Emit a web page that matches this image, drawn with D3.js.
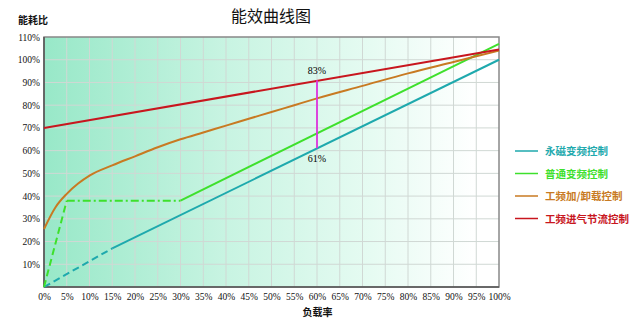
<!DOCTYPE html>
<html><head><meta charset="utf-8">
<script src="https://cdn.jsdelivr.net/npm/d3@7"></script>
<style>body{margin:0;background:#fff}svg{display:block}</style>
</head><body>
<svg id="c" width="640" height="326"></svg>
<script>
const xTicks = [0,5,10,15,20,25,30,35,40,45,50,55,60,65,70,75,80,85,90,95,100];
const yTicks = [10,20,30,40,50,60,70,80,90,100,110];
const seriesNames = ["永磁变频控制","普通变频控制","工频加/卸载控制","工频进气节流控制"];
const seriesColors = ["#1ea9ad","#3ee02c","#c87a22","#c8161e"];
const cyanDash = [[0,0],[15,17]];
const cyanSolid = [[15,17],[100,100]];
const greenDash = [[0,0],[5,38]];
const greenDashDot = [[5,38],[30,38]];
const greenSolid = [[30,38],[100,107]];
const orange = [[0,25.5],[2.5,35],[5,41],[7.5,45.5],[10,49],[15,53.5],[20,57.5],[25,61.5],[30,65],[35,68],[40,71],[45,74],[50,77],[55,80],[60,83],[70,88.5],[80,94],[90,99],[100,104]];
const red = [[0,70],[100,104.5]];
const marker = {x:60, lo:61, hi:91, topLabel:"83%", botLabel:"61%"};

const svg = d3.select("#c");
const m = {l:44, r:499, t:37, b:287};
const x = d3.scaleLinear().domain([0,100]).range([m.l,m.r]);
const y = d3.scaleLinear().domain([0,110]).range([m.b,m.t]);

const defs = svg.append("defs");
const g = defs.append("linearGradient").attr("id","bg").attr("x1","0").attr("x2","1").attr("y1","0").attr("y2","0");
g.append("stop").attr("offset","0").attr("stop-color","#98e8c8");
g.append("stop").attr("offset","0.4").attr("stop-color","#c8f4e2");
g.append("stop").attr("offset","0.72").attr("stop-color","#e6fbf2");
g.append("stop").attr("offset","0.95").attr("stop-color","#ffffff");

svg.append("rect").attr("x",m.l).attr("y",m.t).attr("width",m.r-m.l).attr("height",m.b-m.t).attr("fill","url(#bg)");

// grid
svg.append("g").selectAll("line").data(xTicks.slice(1,-1)).join("line")
  .attr("x1",d=>x(d)).attr("x2",d=>x(d)).attr("y1",m.t).attr("y2",m.b)
  .attr("stroke","#d0d8d4").attr("stroke-width",1);
svg.append("g").selectAll("line").data(yTicks.slice(0,-1)).join("line")
  .attr("x1",m.l).attr("x2",m.r).attr("y1",d=>y(d)).attr("y2",d=>y(d))
  .attr("stroke","#d0d8d4").attr("stroke-width",1);

// border
svg.append("rect").attr("x",m.l).attr("y",m.t).attr("width",m.r-m.l).attr("height",m.b-m.t)
  .attr("fill","none").attr("stroke","#888").attr("stroke-width",1.5);
svg.append("line").attr("x1",m.l).attr("x2",m.l).attr("y1",m.t).attr("y2",m.b).attr("stroke","#555").attr("stroke-width",1.5);
svg.append("line").attr("x1",m.l).attr("x2",m.r).attr("y1",m.b).attr("y2",m.b).attr("stroke","#555").attr("stroke-width",1.5);

// axes labels
const font = "'Liberation Serif','DejaVu Serif',serif";
const xa = d3.axisBottom(x).tickValues(xTicks).tickFormat(d=>d+"%").tickSize(0).tickPadding(6);
const xg = svg.append("g").attr("transform",`translate(0,${m.b})`).call(xa);
xg.select(".domain").remove();
xg.selectAll("text").attr("font-family",font).attr("font-size",9.5).attr("fill","#111");
const ya = d3.axisLeft(y).tickValues(yTicks).tickFormat(d=>d+"%").tickSize(0).tickPadding(4);
const yg = svg.append("g").attr("transform",`translate(${m.l},0)`).call(ya);
yg.select(".domain").remove();
yg.selectAll("text").attr("font-family",font).attr("font-size",9.5).attr("fill","#111");

const line = d3.line().x(d=>x(d[0])).y(d=>y(d[1]));
const curve = d3.line().x(d=>x(d[0])).y(d=>y(d[1])).curve(d3.curveMonotoneX);
function path(data, color, dash, gen){
  svg.append("path").attr("d",(gen||line)(data)).attr("fill","none").attr("stroke",color)
    .attr("stroke-width",2).attr("stroke-dasharray",dash||null);
}
path(cyanDash, seriesColors[0], "7,4");
path(cyanSolid, seriesColors[0]);
path(greenDash, seriesColors[1], "7,4");
path(greenDashDot, seriesColors[1], "8,3,2,3");
path(greenSolid, seriesColors[1]);
path(orange, seriesColors[2], null, curve);
path(red, seriesColors[3]);

// marker
svg.append("line").attr("x1",x(marker.x)).attr("x2",x(marker.x)).attr("y1",y(marker.lo)).attr("y2",y(marker.hi))
  .attr("stroke","#dd33dd").attr("stroke-width",1.8);
svg.append("text").attr("x",x(marker.x)).attr("y",y(marker.hi)-6).attr("text-anchor","middle")
  .attr("font-family",font).attr("font-size",10).text(marker.topLabel);
svg.append("text").attr("x",x(marker.x)).attr("y",y(marker.lo)+14).attr("text-anchor","middle")
  .attr("font-family",font).attr("font-size",10).text(marker.botLabel);

// titles
const cjk = "'Noto Sans CJK SC',sans-serif";
svg.append("text").attr("x",271).attr("y",22).attr("text-anchor","middle").attr("font-family",cjk)
  .attr("font-size",16).attr("fill","#111").text("能效曲线图");
svg.append("text").attr("x",18).attr("y",24).attr("font-family",cjk).attr("font-size",10).attr("font-weight","bold")
  .attr("fill","#111").text("能耗比");
svg.append("text").attr("x",(m.l+m.r)/2+46).attr("y",316).attr("text-anchor","middle").attr("font-family",cjk)
  .attr("font-size",10).attr("font-weight","bold").attr("fill","#111").text("负载率");

// legend
const lg = svg.append("g").selectAll("g").data(seriesNames).join("g")
  .attr("transform",(d,i)=>`translate(515,${151+i*22.5})`);
lg.append("line").attr("x1",0).attr("x2",23).attr("stroke",(d,i)=>seriesColors[i]).attr("stroke-width",1.5);
lg.append("text").attr("x",30).attr("y",4).attr("font-family",cjk).attr("font-size",10.5).attr("font-weight","bold")
  .attr("fill",(d,i)=>seriesColors[i]).text(d=>d);
</script>
</body></html>
